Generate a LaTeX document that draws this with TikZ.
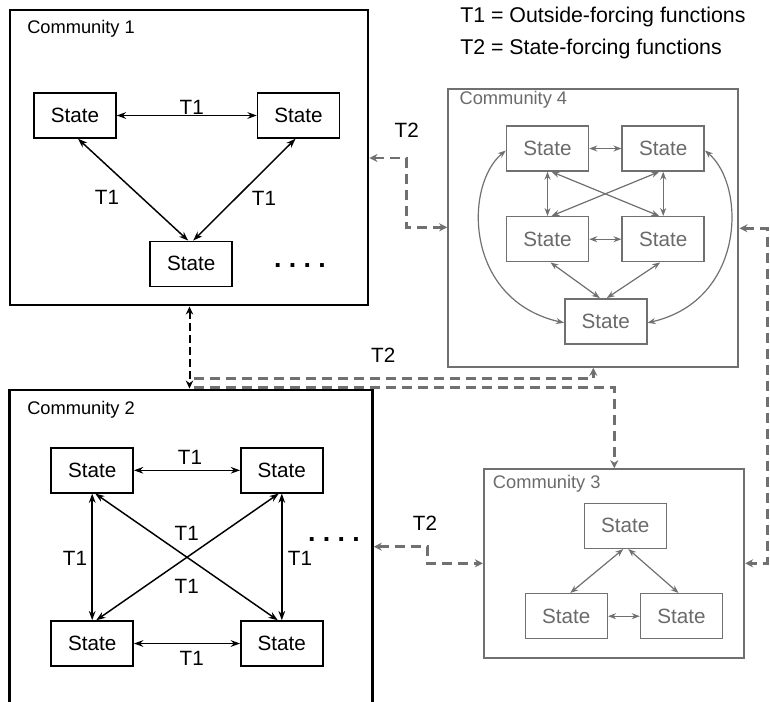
\documentclass[tikz,border=0pt]{standalone}
\usepackage{fontspec}
\setmainfont{Liberation Sans}
\usetikzlibrary{arrows.meta,calc}
\definecolor{gr}{HTML}{707070}
\definecolor{grtext}{HTML}{6A6A6A}
\begin{document}
\begin{tikzpicture}[x=0.75pt,y=-0.75pt,
  st/.style={draw,line width=1.1pt,minimum width=61.5pt,minimum height=33.75pt,inner sep=0pt,font=\fontsize{15.5}{18}\selectfont},
  gst/.style={st,draw=gr,text=grtext},
  comm/.style={draw,line width=2.2pt,inner sep=0pt},
  gcomm/.style={draw=gr,line width=1.7pt,inner sep=0pt},
  clab/.style={anchor=west,font=\fontsize{13.7}{16}\selectfont,inner sep=0pt},
  gclab/.style={clab,text=grtext},
  tl/.style={font=\fontsize{15.5}{18}\selectfont,inner sep=0pt},
  dots/.style={font=\fontsize{20}{20}\selectfont\bfseries,inner sep=0pt},
  bi/.style={{Stealth[length=7pt,width=5pt]}-{Stealth[length=7pt,width=5pt]},line width=1.1pt},
  gbi/.style={{Stealth[length=6pt,width=4.5pt]}-{Stealth[length=6pt,width=4.5pt]},draw=gr,fill=gr,line width=0.9pt},
  tt/.style={draw=gr,line width=2.2pt,dash pattern=on 7.5pt off 4.5pt},
  ttbi/.style={tt,{Stealth[length=6pt,width=6pt]}-{Stealth[length=6pt,width=6pt]}},
  ttone/.style={tt,-{Stealth[length=6pt,width=6pt]}},
  bdash/.style={draw=black,line width=1.5pt,dash pattern=on 6pt off 3pt,{Stealth[length=6pt,width=5.5pt]}-{Stealth[length=6pt,width=5.5pt]}}
]
\useasboundingbox (0,0) rectangle (770,701);
\clip (0,0) rectangle (770,701);

% legend
\node[anchor=west,inner sep=0pt,font=\fontsize{16}{19}\selectfont] (leg1) at (460,17) {T1 = Outside-forcing functions};
\node[anchor=west,inner sep=0pt,font=\fontsize{16}{19}\selectfont] (leg2) at (460,49) {T2 = State-forcing functions};

% Community boxes
\node[comm,minimum width=268.5pt,minimum height=221.25pt] (C1) at (189,157.5) {};
\node[comm,minimum width=272.25pt,minimum height=247.5pt] (C2) at (190.8,555) {};
\node[gcomm,minimum width=217.5pt,minimum height=208.3pt] (C4) at (593.3,227.85) {};
\node[gcomm,minimum width=195pt,minimum height=141.3pt] (C3) at (614,563.5) {};

\node[clab] (C1l) at (27,29) {Community 1};
\node[clab] (C2l) at (27,409.3) {Community 2};
\node[gclab] (C4l) at (459.3,100) {Community 4};
\node[gclab] (C3l) at (492.7,484) {Community 3};

% Community 1
\node[st] (a1) at (75,115.5) {State};
\node[st] (b1) at (298.5,115.5) {State};
\node[st] (c1) at (191.2,263.8) {State};
\draw[bi] (a1.east) -- (b1.west);
\draw[bi] ($(a1.south)+(3,0)$) -- ($(c1.north)+(-3,0)$);
\draw[bi] ($(b1.south)+(-3,0)$) -- ($(c1.north)+(2,0)$);
\node[tl] (t1a) at (191.7,107) {T1};
\node[tl] (t1b) at (107,197) {T1};
\node[tl] (t1c) at (264,198) {T1};
\node[dots] (dots1) at (300,266) {.\kern5.5pt.\kern5.5pt.\kern5.5pt.};

% Community 4
\node[gst] (tl4) at (547.5,148.5) {State};
\node[gst] (tr4) at (663.2,148.5) {State};
\node[gst] (ml4) at (547.5,239.2) {State};
\node[gst] (mr4) at (663.2,239.2) {State};
\node[gst] (b4) at (605.8,321.3) {State};
\draw[gbi] (tl4.east) -- (tr4.west);
\draw[gbi] (ml4.east) -- (mr4.west);
\draw[gbi] (tl4.south) -- (ml4.north);
\draw[gbi] (tr4.south) -- (mr4.north);
\draw[gbi] ($(tl4.south)+(4,0)$) -- ($(mr4.north)+(-4,0)$);
\draw[gbi] ($(tr4.south)+(-4,0)$) -- ($(ml4.north)+(4,0)$);
\draw[gbi] ($(ml4.south)+(3,0)$) -- ($(b4.north)+(-6,0)$);
\draw[gbi] ($(mr4.south)+(-3,0)$) -- ($(b4.north)+(1,0)$);
\draw[gbi,fill=none] ($(tl4.west)+(0,2)$) .. controls (464,185) and (464,300) .. ($(b4.west)+(0,1.5)$);
\draw[gbi,fill=none] ($(tr4.east)+(0,2)$) .. controls (746,185) and (746,300) .. ($(b4.east)+(0,1.5)$);

% Community 3
\node[gst] (t3) at (625.3,525.8) {State};
\node[gst] (bl3) at (566.3,616.2) {State};
\node[gst] (br3) at (681.5,616.2) {State};
\draw[gbi] ($(t3.south)+(-2,0)$) -- ($(bl3.north)+(4,0)$);
\draw[gbi] ($(t3.south)+(3,0)$) -- ($(br3.north)+(-3,0)$);
\draw[gbi] (bl3.east) -- (br3.west);

% Community 2
\node[st] (tl2) at (92.2,470.3) {State};
\node[st] (tr2) at (281.8,470.3) {State};
\node[st] (bl2) at (92.2,643.5) {State};
\node[st] (br2) at (281.8,643.5) {State};
\draw[bi] (tl2.east) -- (tr2.west);
\draw[bi] (bl2.east) -- (br2.west);
\draw[bi] (tl2.south) -- (bl2.north);
\draw[bi] (tr2.south) -- (br2.north);
\draw[bi] ($(tl2.south)+(3,0)$) -- ($(br2.north)+(-4,0)$);
\draw[bi] ($(tr2.south)+(-3,0)$) -- ($(bl2.north)+(4,0)$);
\node[tl] (t2a) at (190,457.3) {T1};
\node[tl] (t2b) at (191.7,658.3) {T1};
\node[tl] (t2c) at (75,558.3) {T1};
\node[tl] (t2d) at (300,558.3) {T1};
\node[tl] (t2e) at (186.7,533.3) {T1};
\node[tl] (t2f) at (186.7,586.7) {T1};
\node[dots] (dots2) at (334,539.5) {.\kern5.5pt.\kern5.5pt.\kern5.5pt.};

% T2 connectors
\draw[ttbi] (C1.east |- 0,158) -- (406.7,158) -- (406.7,227.3) -- (C4.west |- 0,227.3);
\node[tl] (T2a) at (406.7,130) {T2};

\draw[bdash] (189.5,0 |- C1.south) -- (189.5,0 |- C2.north);

\coordinate (j1) at (194,378.3);
\coordinate (j2) at (194,387.5);
\draw[ttone] (j1) -- (593.3,378.3) -- (593.3,0 |- C4.south);
\draw[ttone] (j2) -- (614.3,387.5) -- (614.3,0 |- C3.north);
\node[tl] (T2b) at (383.3,355) {T2};

\draw[ttbi] (C2.east |- 0,546.7) -- (427.3,546.7) -- (427.3,563.3) -- (C3.west |- 0,563.3);
\node[tl] (T2c) at (425,523.3) {T2};

\draw[ttbi] (C4.east |- 0,228.3) -- (767.3,228.3) -- (767.3,563.3) -- (C3.east |- 0,563.3);
\end{tikzpicture}
\end{document}
